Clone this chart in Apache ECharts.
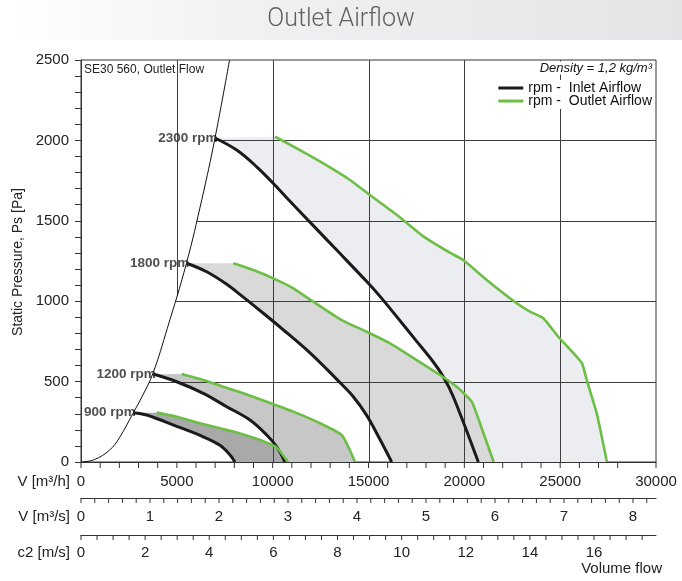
<!DOCTYPE html>
<html>
<head>
<meta charset="utf-8">
<title>Outlet Airflow</title>
<script src="https://cdn.jsdelivr.net/npm/echarts@6/dist/echarts.min.js"></script>
<style>
  html, body { margin: 0; padding: 0; background: #fff; }
  #chart { width: 682px; height: 581px; }
</style>
</head>
<body>
<div id="chart"></div>
<script>
// Fan speeds of the curve families [rpm]
const speeds = [2300, 1800, 1200, 900];

// Inlet airflow curves (black): volume flow [m³/h] / static pressure [Pa]
const inletFlow2300 = [6991, 8123, 9167, 9950, 10904, 12120, 13341, 14906, 15600, 16471, 17515, 18381, 18902, 19424, 20730];
const inletPs2300   = [2015, 1940, 1836, 1743, 1622, 1470, 1318, 1122, 1030, 904, 750, 622, 530, 406, 0];
const inletFlow1800 = [5515, 6558, 7602, 8468, 9511, 10555, 11776, 12819, 13420, 14207, 14906, 15511, 16210];
const inletPs1800   = [1236, 1183, 1105, 1025, 925, 822, 697, 578, 505, 406, 290, 160, 0];
const inletFlow1200 = [3772, 4993, 6381, 7602, 8817, 9689, 10210, 10643];
const inletPs1200   = [547, 499, 427, 344, 261, 168, 95, 0];
const inletFlow900  = [2729, 3428, 4993, 6381, 7252, 7774, 8035];
const inletPs900    = [307, 292, 222, 157, 104, 44, 0];

// Outlet airflow curves (green)
const outletFlow2300 = [10122, 11426, 12641, 14034, 15078, 16550, 17900, 19270, 19946, 21167, 22732, 23426, 24120, 24903, 26124, 26385, 26907, 27440];
const outletPs2300   = [2023, 1940, 1857, 1754, 1660, 1530, 1400, 1300, 1256, 1132, 987, 935, 894, 779, 617, 510, 303, 0];
const outletFlow1800 = [7946, 8990, 10033, 11076, 12120, 13600, 14906, 16121, 17515, 18730, 19601, 20384, 20906, 21530];
const outletPs1800   = [1236, 1194, 1142, 1080, 997, 883, 810, 738, 634, 541, 468, 375, 210, 0];
const outletFlow1200 = [5254, 6381, 7424, 8468, 9689, 11076, 12469, 13602, 13946, 14296];
const outletPs1200   = [547, 510, 468, 427, 375, 313, 241, 168, 95, 0];
const outletFlow900  = [3950, 4993, 6209, 7252, 8296, 9339, 10180, 10800];
const outletPs900    = [307, 282, 241, 210, 178, 137, 93, 0];

// Limiting (system) curve through the start of each speed curve
const sysFlow = [0, 700, 1500, 2000, 2700, 3200, 3750, 4500, 5500, 6300, 7000, 7750];
const sysPs   = [0, 15, 75, 150, 300, 410, 550, 830, 1235, 1630, 2020, 2500];

// Axis ranges, tick steps and grid line positions
const flowMax = 30000;
const psMax = 2500;
const flowTickStep = 1000;   // m³/h
const m3sTickStep = 0.2;     // m³/s
const c2TickStep = 0.5;      // m/s
const gridFlow = [5000, 10000, 15000, 20000, 25000];
const gridPs = [500, 1000, 1500, 2000];

// Secondary scales: m³/s and outlet velocity c2 = V / A
const secondsPerHour = 3600;
const outletArea = 0.4647; // m²
const m3sMax = flowMax / secondsPerHour;
const c2Max = m3sMax / outletArea;

const inletFlows = [inletFlow2300, inletFlow1800, inletFlow1200, inletFlow900];
const inletPs = [inletPs2300, inletPs1800, inletPs1200, inletPs900];
const outletFlows = [outletFlow2300, outletFlow1800, outletFlow1200, outletFlow900];
const outletPs = [outletPs2300, outletPs1800, outletPs1200, outletPs900];

const FONT = '"Liberation Sans", Arial, Helvetica, sans-serif';
const INK = '#222';
const AXIS = '#333';
const inletName = 'rpm -  Inlet Airflow';
const outletName = 'rpm -  Outlet Airflow';
const fillColors = ['#ebedf0', '#d9d9d9', '#c7c7c7', '#a9a9a9'];
const axisOffsets = [0, 36, 73];

const pairs = (xs, ys) => xs.map((x, i) => [x, ys[i]]);

function interp(xs, ys, x) {
  if (x <= xs[0]) return ys[0];
  for (let i = 1; i < xs.length; i++) {
    if (x <= xs[i]) {
      const t = (x - xs[i - 1]) / (xs[i] - xs[i - 1]);
      return ys[i - 1] + t * (ys[i] - ys[i - 1]);
    }
  }
  return ys[ys.length - 1];
}

const crisp = v => Math.round(v) + 0.5;

// Shaded band between inlet and outlet curve of one speed
function renderBand(params, api) {
  const i = params.dataIndex;
  const pts = pairs(inletFlows[i], inletPs[i])
    .concat(pairs(outletFlows[i], outletPs[i]).reverse())
    .map(p => api.coord(p));
  return { type: 'polygon', shape: { points: pts }, style: { fill: fillColors[i], stroke: null } };
}

// Grid lines, only to the right of the limiting curve
function renderGridLine(params, api) {
  const kind = api.value(0);
  const v = api.value(1);
  let a, b;
  if (kind === 0) {
    const p0 = v >= sysFlow[sysFlow.length - 1] ? 0 : interp(sysFlow, sysPs, v);
    a = api.coord([v, p0]);
    b = api.coord([v, psMax]);
    a[0] = b[0] = crisp(a[0]);
  } else {
    const f0 = interp(sysPs, sysFlow, v);
    a = api.coord([f0, v]);
    b = api.coord([flowMax, v]);
    a[1] = b[1] = crisp(a[1]);
  }
  return { type: 'line', shape: { x1: a[0], y1: a[1], x2: b[0], y2: b[1] }, style: { stroke: '#3d3d3d', lineWidth: 1 } };
}

const tickLabelStyle = { fontSize: 15, color: INK, fontFamily: FONT };
const nearInt = v => Math.abs(v - Math.round(v)) < 1e-6;

// Bottom scale labels: a small tick bar on every step, the number under the labelled ones
function scaleLabel(tickLen, numberLineHeight, isLabelled, text) {
  return {
    margin: 0,
    showMaxLabel: false,
    formatter: v => '{t| }' + (isLabelled(v) ? '\n{n|' + text(v) + '}' : ''),
    rich: {
      t: { fontSize: 1, width: 1, height: tickLen, lineHeight: tickLen, backgroundColor: AXIS },
      n: { fontSize: 15, color: INK, fontFamily: FONT, lineHeight: numberLineHeight }
    }
  };
}

const series = [
  {
    type: 'custom', name: 'bands', z: 2, silent: true,
    renderItem: renderBand,
    data: speeds.map((s, i) => [i, 0])
  },
  {
    type: 'custom', name: 'grid', z: 3, silent: true,
    renderItem: renderGridLine,
    data: gridFlow.map(f => [0, f]).concat(gridPs.map(p => [1, p]))
  },
  {
    type: 'line', name: 'limit', z: 4, silent: true, smooth: 0.4, symbol: 'none',
    lineStyle: { color: '#111', width: 1 },
    data: pairs(sysFlow, sysPs)
  }
];

speeds.forEach((s, i) => {
  series.push({
    type: 'line', name: inletName, z: 5, smooth: 0.35, symbol: 'none', silent: true,
    itemStyle: { color: '#1b1b1b' },
    lineStyle: { color: '#1b1b1b', width: 3 },
    data: pairs(inletFlows[i], inletPs[i])
  });
});
speeds.forEach((s, i) => {
  series.push({
    type: 'line', name: outletName, z: 6, smooth: 0.15, symbol: 'none', silent: true,
    itemStyle: { color: '#6cbe45' },
    lineStyle: { color: '#6cbe45', width: 2.6 },
    data: pairs(outletFlows[i], outletPs[i])
  });
});

// Speed labels at the start of each inlet curve
series.push({
  type: 'scatter', name: 'speed labels', z: 7, silent: true,
  symbolSize: 1, itemStyle: { color: 'rgba(0,0,0,0)' },
  label: { show: true, position: 'left', distance: -3, fontWeight: 'bold', fontSize: 13.5, color: INK, fontFamily: FONT },
  data: speeds.map((s, i) => ({ value: [inletFlows[i][0], inletPs[i][0]], label: { formatter: s + ' rpm' } }))
});

const txt = (text, x, y, extra) => ({
  type: 'text', x, y, z: 100,
  style: Object.assign({ text, fontSize: 15, fontFamily: FONT, fill: INK, align: 'left', verticalAlign: 'middle' }, extra || {})
});

const flowLabel = scaleLabel(6, 28, v => v % 5000 === 0, v => String(v));
flowLabel.showMaxLabel = true;

const option = {
  animation: false,
  grid: { left: 81, right: 26, top: 60, bottom: 119, show: true, borderColor: AXIS, borderWidth: 1 },
  legend: {
    data: [inletName, outletName], orient: 'vertical', right: 28, top: 80,
    itemWidth: 25, itemHeight: 3, itemGap: -1, icon: 'rect',
    backgroundColor: '#fff', padding: [1, 2],
    textStyle: { fontSize: 14, color: '#111', fontFamily: FONT }
  },
  xAxis: [
    {
      type: 'value', min: 0, max: flowMax, interval: flowTickStep, z: 10,
      axisLine: { show: true, onZero: false, lineStyle: { color: AXIS } },
      axisTick: { show: false },
      axisLabel: flowLabel,
      splitLine: { show: false }
    },
    {
      type: 'value', position: 'bottom', offset: axisOffsets[1], min: 0, max: m3sMax, interval: m3sTickStep, z: 10,
      axisLine: { show: true, onZero: false, lineStyle: { color: AXIS } },
      axisTick: { show: false },
      axisLabel: scaleLabel(5, 28, v => nearInt(v), v => String(Math.round(v))),
      splitLine: { show: false }
    },
    {
      type: 'value', position: 'bottom', offset: axisOffsets[2], min: 0, max: c2Max, interval: c2TickStep, z: 10,
      axisLine: { show: true, onZero: false, lineStyle: { color: AXIS } },
      axisTick: { show: false },
      axisLabel: scaleLabel(5, 26, v => nearInt(v / 2), v => String(Math.round(v))),
      splitLine: { show: false }
    }
  ],
  yAxis: {
    type: 'value', min: 0, max: psMax, interval: 100, z: 10,
    axisLine: { show: true, onZero: false, lineStyle: { color: AXIS } },
    axisTick: { show: true, length: 6, lineStyle: { color: AXIS } },
    axisLabel: Object.assign({ margin: 12, formatter: v => (v % 500 === 0 ? String(v) : '') }, tickLabelStyle),
    splitLine: { show: false }
  },
  graphic: [
    {
      type: 'rect', z: 0, shape: { x: 0, y: 0, width: 682, height: 40 },
      style: {
        fill: new echarts.graphic.LinearGradient(0, 0, 1, 0, [
          { offset: 0, color: '#ffffff' },
          { offset: 0.35, color: '#f1f1f2' },
          { offset: 1, color: '#e3e4e6' }
        ])
      }
    },
    txt('Outlet Airflow', 341, 20, { fontSize: 25, fontFamily: 'Roboto, "Liberation Sans", sans-serif', fontWeight: 300, fill: '#606060', align: 'center' }),
    txt('SE30 560, Outlet Flow', 84, 70, { fontSize: 12 }),
    txt('Density = 1,2 kg/m³', 652, 68, { fontSize: 13, fontStyle: 'italic', align: 'right', backgroundColor: '#fff', fill: '#111' }),
    Object.assign(txt('Static Pressure, Ps [Pa]', 18, 262, { fontSize: 14, align: 'center' }), { rotation: Math.PI / 2 }),
    txt('V [m³/h]', 70, 482, { align: 'right' }),
    txt('V [m³/s]', 70, 517, { align: 'right' }),
    txt('c2 [m/s]', 70, 553, { align: 'right' }),
    txt('Volume flow', 662, 569, { align: 'right' })
  ],
  series
};

const chart = echarts.init(document.getElementById('chart'), null, { renderer: 'canvas' });
chart.setOption(option);
</script>
</body>
</html>
